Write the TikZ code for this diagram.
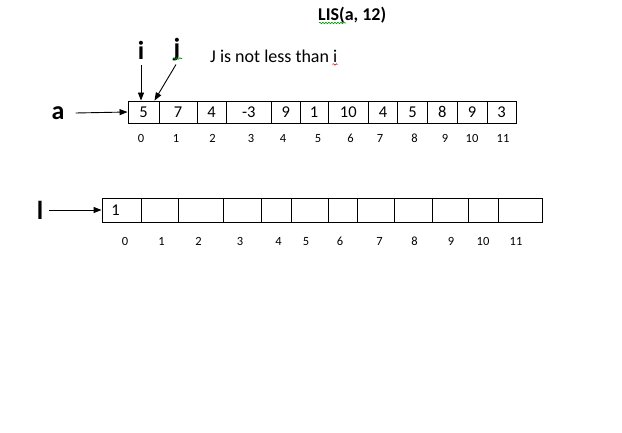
\documentclass[tikz,border=0pt]{standalone}
\usepackage{fontspec}
\setmainfont{Carlito}
\usetikzlibrary{arrows.meta,decorations.pathmorphing}
\begin{document}
\begin{tikzpicture}[x=1pt,y=-1pt,
  cellA/.style={draw,line width=0.9pt,minimum height=22pt,inner sep=0pt,font=\fontsize{16.5}{18}\selectfont},
  cellB/.style={draw,line width=0.9pt,minimum height=24pt,inner sep=0pt,font=\fontsize{16.5}{18}\selectfont},
  idx/.style={font=\fontsize{12.5}{14}\selectfont,inner sep=0pt,anchor=base},
  biglab/.style={font=\bfseries\fontsize{26}{28}\selectfont,inner sep=0pt},
  txt/.style={font=\fontsize{18}{20}\selectfont,inner sep=0pt,anchor=west},
  arr/.style={line width=0.9pt,-{Triangle[length=8pt,width=6pt]}},
  wavy/.style={line width=0.6pt,decorate,decoration={snake,amplitude=0.8pt,segment length=3pt}}]
\useasboundingbox (0,0) rectangle (622,433);
\fill[white] (0,0) rectangle (622,433);

% title
\node[txt,font=\bfseries\fontsize{18}{20}\selectfont] (title) at (318,15) {LIS(a, 12)};
\draw[wavy,green!60!black] (319,23) -- (346,23);

% top array
\foreach \i/\l/\r/\v in {0/128/159/5,1/159/197/7,2/197/226/4,3/226/271.5/-3,4/271.5/300/9,5/300/328/1,6/328/368.5/10,7/368.5/397.5/4,8/397.5/427.5/5,9/427.5/457/8,10/457/487/9,11/487/516/3}{
  \pgfmathsetmacro\w{\r-\l}
  \pgfmathsetmacro\c{(\l+\r)/2}
  \node[cellA,minimum width=\w pt] (a\i) at (\c,112) {\v};
}
\foreach \i/\x in {0/141,1/176,2/212.5,3/251,4/283,5/318,6/350.5,7/380,8/414.5,9/445,10/472,11/503}{
  \node[idx] (ia\i) at (\x,142.5) {\i};
}

% labels and arrows top
\node[biglab] (alab) at (58,113) {a};
\draw[arr] ([xshift=11pt]alab.east) -- (a0.west);
\node[biglab] (ilab) at (141,50) {i};
\node[biglab] (jlab) at (177,50) {j};
\draw[wavy,green!60!black] (173,58.5) -- (182,58.5);
\draw[arr] ([yshift=-6pt]ilab.south) -- ([xshift=-2.5pt]a0.north);
\draw[arr] ([xshift=-1pt,yshift=-3pt]jlab.south) -- ([xshift=11pt]a0.north);
\node[txt] (note) at (210,56) {J is not less than i};
\draw[wavy,red!80!black,line width=0.5pt] (332.5,64.5) -- (337.5,64.5);

% bottom array
\foreach \i/\l/\r/\v in {0/102/141/1,1/141/178/,2/178/223/,3/223/261/,4/261/291/,5/291/328/,6/328/357/,7/357/394/,8/394/432/,9/432/468/,10/468/498/,11/498/542/}{
  \pgfmathsetmacro\w{\r-\l}
  \pgfmathsetmacro\c{(\l+\r)/2}
  \node[cellB,minimum width=\w pt] (b\i) at (\c,210) {};
}
\node[font=\fontsize{16.5}{18}\selectfont,inner sep=0pt] (one) at (115.5,210) {1};
\foreach \i/\x in {0/125,1/161.5,2/198.5,3/240,4/278.5,5/306,6/340,7/379.5,8/414.5,9/451,10/483,11/516}{
  \node[idx] (ib\i) at (\x,245.5) {\i};
}
\node[biglab] (llab) at (40,210) {l};
\draw[arr] ([xshift=6pt]llab.east) -- (b0.west);
\end{tikzpicture}
\end{document}
